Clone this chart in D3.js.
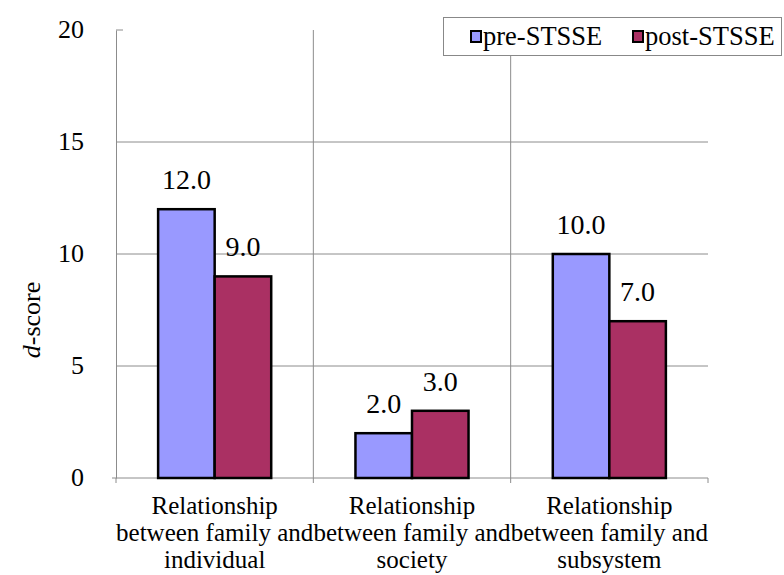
<!DOCTYPE html>
<html><head><meta charset="utf-8">
<script src="https://cdn.jsdelivr.net/npm/d3@7"></script>
<style>body{margin:0;background:#fff}svg{display:block}
svg text{font-family:"Liberation Serif","Times New Roman",Times,"DejaVu Serif",serif;}</style>
</head><body>
<script>
const categories = [
  ["Relationship","between family and","individual"],
  ["Relationship","between family and","society"],
  ["Relationship","between family and","subsystem"]
];
const seriesNames = ["pre-STSSE","post-STSSE"];
const preValues = [12.0, 2.0, 10.0];
const postValues = [9.0, 3.0, 7.0];
const yTicks = [0,5,10,15,20];
const colors = ["#9999FF","#AA3063"];

const W=784,H=575;
const m={left:116,right:76,top:30,bottom:97};
const svg=d3.select("body").append("svg").attr("width",W).attr("height",H);
const x=d3.scaleBand().domain(d3.range(categories.length)).range([m.left,W-m.right]).paddingInner(0).paddingOuter(0);
const x1=d3.scaleBand().domain([0,1]).range([0,x.bandwidth()]).paddingOuter(0.745).paddingInner(0);
const y=d3.scaleLinear().domain([0,20]).range([H-m.bottom,m.top]);
const grid="#8c8c8c";

// horizontal gridlines
svg.append("g").selectAll("line").data(yTicks.filter(t=>t>0&&t<20)).join("line")
  .attr("x1",m.left).attr("x2",W-m.right).attr("y1",d=>y(d)).attr("y2",d=>y(d))
  .attr("stroke",grid).attr("stroke-width",1);
// vertical separators
svg.append("g").selectAll("line").data(d3.range(1,categories.length)).join("line")
  .attr("x1",d=>x(d)).attr("x2",d=>x(d)).attr("y1",m.top).attr("y2",y(0))
  .attr("stroke",grid).attr("stroke-width",1);

// y axis
const yAxis=svg.append("g").attr("transform",`translate(${m.left},0)`)
  .call(d3.axisLeft(y).tickValues(yTicks).tickSize(0).tickPadding(32));
yAxis.attr("font-family",null);
yAxis.select(".domain").attr("stroke",grid);
yAxis.selectAll("text").attr("font-size",26).attr("fill","#000").attr("dy","0.3em");
svg.append("line").attr("x1",m.left).attr("x2",m.left+7).attr("y1",y(20)).attr("y2",y(20)).attr("stroke",grid);

// x axis
svg.append("line").attr("x1",m.left-4).attr("x2",W-m.right).attr("y1",y(0)).attr("y2",y(0)).attr("stroke",grid);
svg.append("g").selectAll("line").data(d3.range(categories.length+1)).join("line")
  .attr("x1",d=>d<categories.length?x(d):x(d-1)+x.bandwidth()).attr("x2",d=>d<categories.length?x(d):x(d-1)+x.bandwidth())
  .attr("y1",y(0)).attr("y2",y(0)+5).attr("stroke",grid);

// bars
const data=categories.map((c,i)=>[preValues[i],postValues[i]]);
const g=svg.append("g").selectAll("g").data(data).join("g").attr("transform",(d,i)=>`translate(${x(i)},0)`);
g.selectAll("rect").data(d=>d).join("rect")
  .attr("x",(d,j)=>x1(j)).attr("width",x1.bandwidth())
  .attr("y",d=>y(d)).attr("height",d=>y(0)-y(d))
  .attr("fill",(d,j)=>colors[j]).attr("stroke","#000").attr("stroke-width",2.5);
g.selectAll("text.v").data(d=>d).join("text").attr("class","v")
  .attr("x",(d,j)=>x1(j)+x1.bandwidth()/2).attr("y",d=>y(d)-20)
  .attr("text-anchor","middle").attr("font-size",28)
  .text(d=>d.toFixed(1));

// category labels
categories.forEach((c,i)=>{
  const t=svg.append("text").attr("text-anchor","middle").attr("font-size",25)
    .attr("x",x(i)+x.bandwidth()/2).attr("y",y(0)+36);
  c.forEach((l,k)=>t.append("tspan").attr("x",x(i)+x.bandwidth()/2).attr("dy",k?27:0).text(l));
});

// y label
const yl=svg.append("text").attr("transform","translate(40,320) rotate(-90)").attr("text-anchor","middle")
  .attr("font-size",26);
yl.append("tspan").attr("font-style","italic").text("d");
yl.append("tspan").text("-score");

// legend
const lg=svg.append("g");
lg.append("rect").attr("x",443.5).attr("y",17.5).attr("width",338).attr("height",38).attr("fill","#fff").attr("stroke","#888");
const lx=[471,633];
seriesNames.forEach((s,j)=>{
  lg.append("rect").attr("x",lx[j]).attr("y",31).attr("width",10).attr("height",11).attr("fill",colors[j]).attr("stroke","#000").attr("stroke-width",2);
  lg.append("text").attr("x",lx[j]+12).attr("y",45).attr("font-size",26.5).text(s);
});
</script>
</body></html>
